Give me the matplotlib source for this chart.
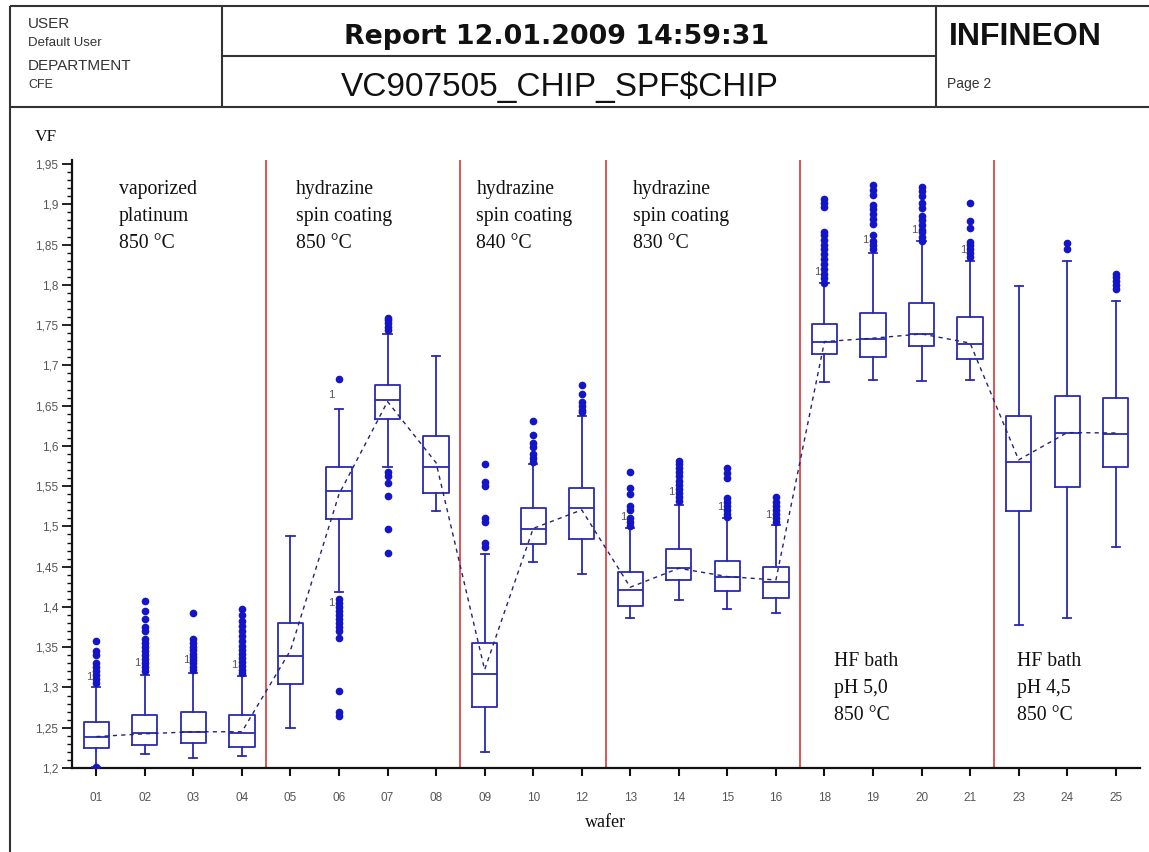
import matplotlib
matplotlib.use("Agg")
import matplotlib.pyplot as plt
from matplotlib import font_manager
from matplotlib.font_manager import FontProperties
from matplotlib.ticker import MultipleLocator

# ---------------- data ----------------
wafers = ["01", "02", "03", "04", "05", "06", "07", "08", "09", "10", "12",
          "13", "14", "15", "16", "18", "19", "20", "21", "23", "24", "25"]
medians = [1.238, 1.243, 1.245, 1.243, 1.339, 1.5435, 1.657, 1.5735, 1.317, 1.4963, 1.5223,
           1.421, 1.448, 1.437, 1.431, 1.7288, 1.7325, 1.739, 1.7267, 1.580, 1.6165, 1.615]
q1 = [1.2245, 1.2286, 1.2307, 1.2265, 1.3043, 1.509, 1.633, 1.541, 1.2754, 1.4776, 1.484,
      1.4017, 1.433, 1.4203, 1.4108, 1.7143, 1.710, 1.7246, 1.708, 1.5186, 1.5487, 1.5735]
q3 = [1.2575, 1.266, 1.2696, 1.266, 1.3805, 1.5735, 1.6758, 1.6124, 1.3557, 1.5223, 1.5475,
      1.443, 1.4716, 1.4576, 1.4493, 1.7511, 1.7656, 1.778, 1.760, 1.6373, 1.662, 1.660]
whislo = [1.201, 1.217, 1.2128, 1.2149, 1.250, 1.418, 1.5735, 1.5186, 1.2203, 1.456, 1.441,
          1.3868, 1.4087, 1.398, 1.392, 1.6799, 1.682, 1.680, 1.682, 1.3776, 1.386, 1.474]
whishi = [1.301, 1.3155, 1.318, 1.314, 1.488, 1.646, 1.739, 1.7118, 1.4659, 1.5776, 1.6373,
          1.4975, 1.5267, 1.510, 1.5019, 1.802, 1.8394, 1.8538, 1.829, 1.798, 1.829, 1.780]
means = [1.239, 1.2425, 1.245, 1.245, 1.346, 1.540, 1.655, 1.579, 1.322, 1.4975, 1.5205,
         1.4245, 1.448, 1.4377, 1.4335, 1.7295, 1.7337, 1.739, 1.7276, 1.5826, 1.6165, 1.616]
fliers = [
    [1.201, 1.305, 1.31, 1.315, 1.32, 1.325, 1.33, 1.34, 1.345, 1.358],
    [1.32, 1.325, 1.33, 1.335, 1.34, 1.345, 1.35, 1.355, 1.36, 1.37, 1.375, 1.385, 1.395, 1.407],
    [1.322, 1.326, 1.33, 1.334, 1.338, 1.342, 1.346, 1.35, 1.355, 1.36, 1.393],
    [1.318, 1.322, 1.327, 1.332, 1.337, 1.342, 1.347, 1.352, 1.358, 1.364, 1.37, 1.376,
     1.382, 1.39, 1.397],
    [],
    [1.683, 1.41, 1.405, 1.40, 1.395, 1.39, 1.385, 1.38, 1.375, 1.37, 1.362, 1.295, 1.27, 1.264],
    [1.744, 1.748, 1.752, 1.756, 1.759, 1.568, 1.562, 1.554, 1.538, 1.497, 1.467],
    [],
    [1.475, 1.48, 1.505, 1.51, 1.55, 1.555, 1.578],
    [1.58, 1.585, 1.59, 1.598, 1.603, 1.614, 1.631],
    [1.642, 1.645, 1.65, 1.655, 1.665, 1.676],
    [1.50, 1.505, 1.51, 1.52, 1.525, 1.54, 1.548, 1.568],
    [1.532, 1.537, 1.542, 1.547, 1.552, 1.557, 1.562, 1.567, 1.572, 1.577, 1.581],
    [1.512, 1.516, 1.52, 1.525, 1.53, 1.535, 1.56, 1.566, 1.572],
    [1.505, 1.51, 1.515, 1.52, 1.525, 1.53, 1.537],
    [1.802, 1.808, 1.814, 1.82, 1.826, 1.832, 1.838, 1.844, 1.85, 1.856, 1.862, 1.866,
     1.897, 1.901, 1.906],
    [1.845, 1.85, 1.855, 1.862, 1.876, 1.882, 1.888, 1.894, 1.899, 1.912, 1.918, 1.924],
    [1.855, 1.86, 1.865, 1.868, 1.874, 1.88, 1.885, 1.895, 1.902, 1.91, 1.916, 1.922],
    [1.834, 1.839, 1.844, 1.849, 1.853, 1.871, 1.879, 1.9015],
    [],
    [1.845, 1.852],
    [1.795, 1.80, 1.805, 1.81, 1.813],
]
note_wafers = ["01", "02", "03", "04", "06", "06", "13", "14", "15", "16", "18", "19", "20", "21"]
note_values = [1.313, 1.330, 1.334, 1.328, 1.663, 1.4046, 1.512, 1.543, 1.5246, 1.514,
               1.8163, 1.856, 1.868, 1.8435]
group_breaks_after = ["04", "08", "12", "16", "21"]
group_texts = ["vaporized\nplatinum\n850 °C",
               "hydrazine\nspin coating\n850 °C",
               "hydrazine\nspin coating\n840 °C",
               "hydrazine\nspin coating\n830 °C",
               "HF bath\npH 5,0\n850 °C",
               "HF bath\npH 4,5\n850 °C"]
ytick_values = [1.2, 1.25, 1.3, 1.35, 1.4, 1.45, 1.5, 1.55, 1.6, 1.65, 1.7, 1.75, 1.8, 1.85, 1.9, 1.95]
ytick_labels = ["1,2", "1,25", "1,3", "1,35", "1,4", "1,45", "1,5", "1,55", "1,6", "1,65",
                "1,7", "1,75", "1,8", "1,85", "1,9", "1,95"]

# ---------------- figure ----------------
W, H = 1149, 852
fig = plt.figure(figsize=(W / 100, H / 100), dpi=100)
fig.patch.set_facecolor("white")

# header overlay in pixel coordinates
hdr = fig.add_axes([0, 0, 1, 1])
hdr.set_xlim(0, W)
hdr.set_ylim(H, 0)
hdr.axis("off")
hdr.patch.set_alpha(0)
lc = "#333333"
lw = 1.5
for (xs, ys) in [([10, W], [6, 6]), ([10, W], [107, 107]), ([10, 10], [6, H]),
                 ([222, 222], [6, 107]), ([936, 936], [6, 107]), ([222, 936], [56, 56])]:
    hdr.plot(xs, ys, color=lc, lw=lw, solid_capstyle="butt")

sans = "Liberation Sans"
hdr.text(28, 28, "USER", fontsize=11, family=sans, color="#333333", va="baseline")
hdr.text(28, 46, "Default User", fontsize=9.5, family=sans, color="#333333", va="baseline")
hdr.text(28, 70, "DEPARTMENT", fontsize=11, family=sans, color="#333333", va="baseline")
hdr.text(28, 88, "CFE", fontsize=9, family=sans, color="#333333", va="baseline")
hdr.text(557, 44, "Report 12.01.2009 14:59:31", fontsize=19.4, family="DejaVu Sans",
         weight="bold", color="#111111", ha="center", va="baseline")
try:
    font_manager.findfont(FontProperties(family="Liberation Sans Narrow"), fallback_to_default=False)
    sub_family, sub_size = "Liberation Sans Narrow", 29
except Exception:
    sub_family, sub_size = sans, 24
hdr.text(560, 96, "VC907505_CHIP_SPF$CHIP", fontsize=sub_size, family=sub_family,
         color="#111111", ha="center", va="baseline")
hdr.text(949, 45, "INFINEON", fontsize=23, family=sans, weight="bold", color="#111111",
         va="baseline")
hdr.text(947, 88, "Page 2", fontsize=10, family=sans, color="#333333", va="baseline")
hdr.text(35, 141, "VF", fontsize=12.5, family="Liberation Serif", color="#111111", va="baseline")

# main axes
ax = fig.add_axes([72 / W, 1 - 768 / H, (1140 - 72) / W, (768 - 160) / H])
ax.patch.set_alpha(0)
positions = list(range(1, len(wafers) + 1))
stats = []
for i, w in enumerate(wafers):
    stats.append(dict(label=w, med=medians[i], q1=q1[i], q3=q3[i], whislo=whislo[i],
                      whishi=whishi[i], fliers=fliers[i], mean=means[i]))
blue = "#2a2ab4"
fcol = "#1414c8"
ax.bxp(stats, positions=positions, widths=0.52, capwidths=0.17, showfliers=True,
       boxprops=dict(color=blue, lw=1.3), whiskerprops=dict(color=blue, lw=1.3),
       capprops=dict(color=blue, lw=1.3), medianprops=dict(color=blue, lw=1.3),
       flierprops=dict(marker="o", markerfacecolor=fcol, markeredgecolor=fcol, markersize=4.5),
       zorder=3)
ax.plot(positions, means, linestyle=(0, (3, 3)), color="#22227a", lw=1.0, zorder=4)

for w in group_breaks_after:
    ax.axvline(wafers.index(w) + 1.5, color="#d23c3c", lw=1.2, zorder=1)

# notes next to outlier groups
for w, v in zip(note_wafers, note_values):
    ax.text(wafers.index(w) + 1 - 0.15, v, "1", fontsize=8, family=sans, color="#555555",
            ha="center", va="center", zorder=5)

# group annotations
serif = "Liberation Serif"
text_x = [1.467, 5.11, 8.83, 12.05, 16.2, 19.97]
text_y = [1.930, 1.930, 1.930, 1.930, 1.3437, 1.3437]
for t, x, y in zip(group_texts, text_x, text_y):
    ax.text(x, y, t, fontsize=14.2, family=serif, color="#111111", ha="left", va="top",
            linespacing=1.55, zorder=5)

ax.set_xlim(0.5, len(wafers) + 0.5)
ax.set_ylim(1.2, 1.955)
ax.set_xticks(positions, labels=wafers)
ax.set_yticks(ytick_values, labels=ytick_labels)
ax.yaxis.set_minor_locator(MultipleLocator(0.01))
for s in ["top", "right"]:
    ax.spines[s].set_visible(False)
for s in ["left", "bottom"]:
    ax.spines[s].set_linewidth(1.6)
    ax.spines[s].set_color("#111111")
ax.tick_params(axis="y", which="major", length=7, width=1.3, color="#111111",
               labelcolor="#555555", labelsize=8.5, pad=3)
ax.tick_params(axis="y", which="minor", length=3.5, width=1.0, color="#111111")
ax.tick_params(axis="x", which="major", length=6, width=1.5, color="#111111",
               labelcolor="#555555", labelsize=8.5, pad=11.5)
for lab in ax.get_xticklabels() + ax.get_yticklabels():
    lab.set_family(sans)
ax.set_xlabel("wafer", fontsize=13, family=serif, color="#111111", labelpad=7)

fig.savefig("out.png", dpi=100, facecolor="white")
